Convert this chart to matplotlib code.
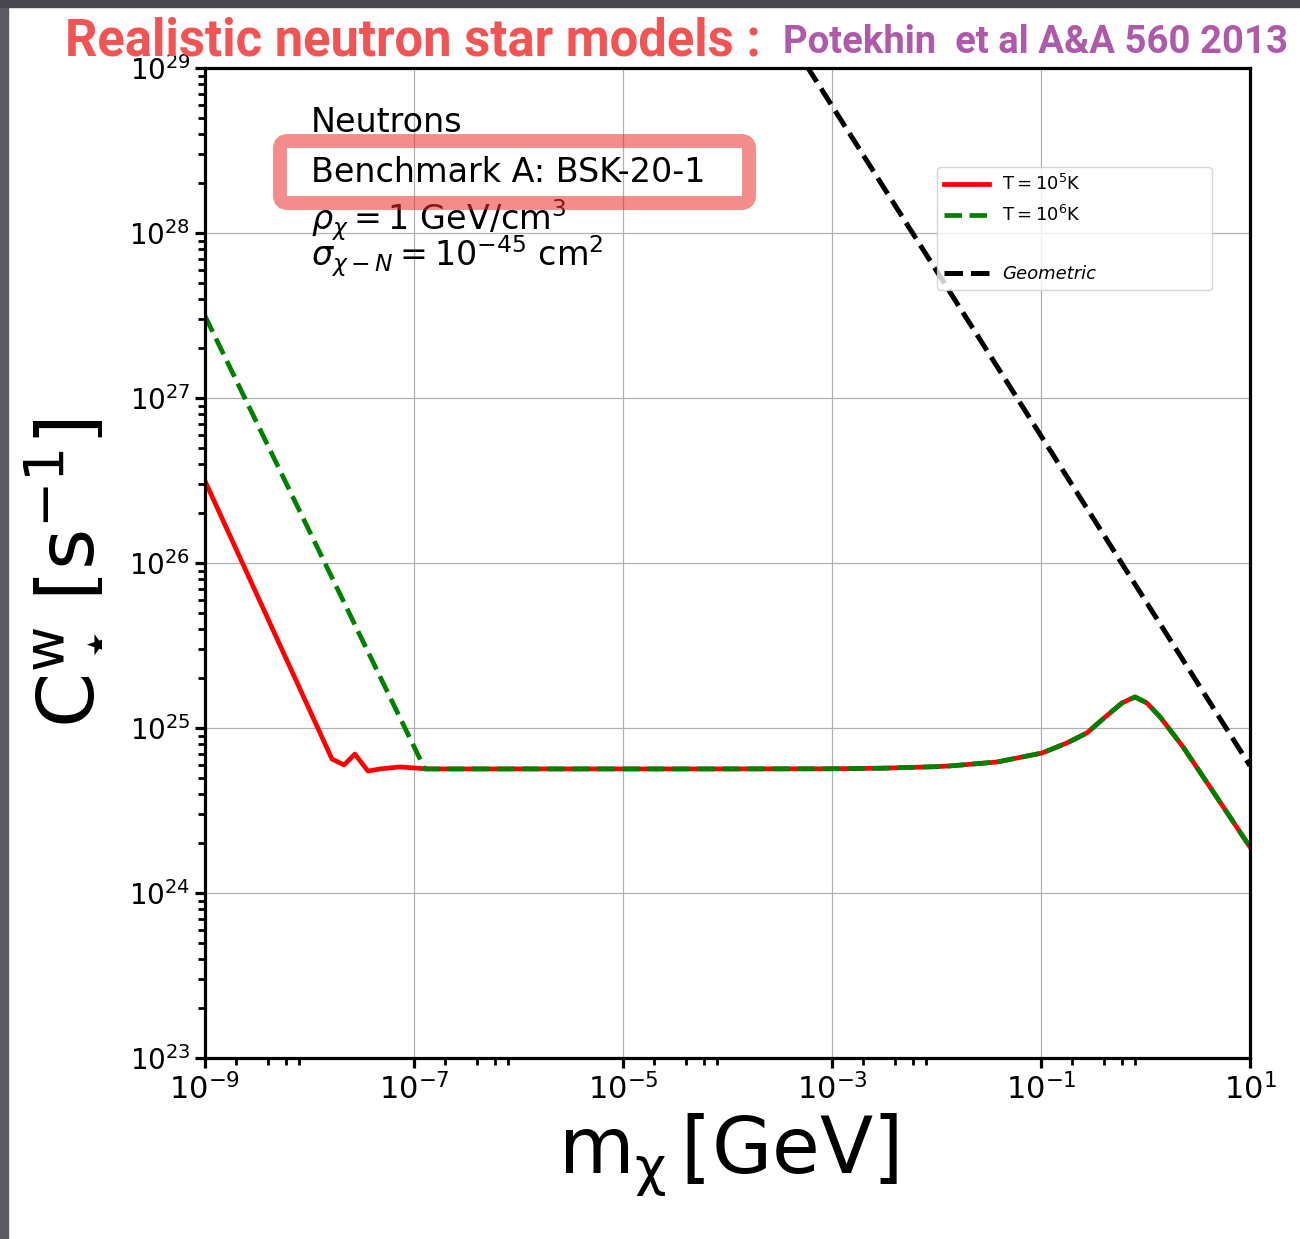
import matplotlib
matplotlib.use('Agg')
import matplotlib.pyplot as plt
import numpy as np
from matplotlib.patches import FancyBboxPatch, Rectangle
from matplotlib.ticker import FixedLocator, LogLocator, NullFormatter

# values (GeV, s^-1)
m_red = [1e-9, 1.64e-8, 2.14e-8, 2.72e-8, 3.63e-8, 4.73e-8, 7.35e-8, 1.33e-7]
c_red = [3.14e26, 6.49e24, 5.97e24, 6.95e24, 5.48e24, 5.65e24, 5.81e24, 5.65e24]
m_green = [1e-9, 1.27e-7]
c_green = [3.14e27, 5.65e24]
m_tail = [1e-6, 1e-5, 1e-4, 1e-3, 3.16e-3, 1e-2, 1.35e-2, 3.79e-2, 0.102, 0.177,
          0.275, 0.392, 0.596, 0.794, 1.03, 1.38, 2.29, 4.14, 10.0]
c_tail = [5.65e24, 5.65e24, 5.65e24, 5.66e24, 5.71e24, 5.83e24, 5.89e24, 6.22e24,
          7.05e24, 8.11e24, 9.33e24, 1.135e25, 1.419e25, 1.542e25, 1.419e25,
          1.167e25, 7.67e24, 4.39e24, 1.90e24]
m_geo = [1e-4, 1e-3, 1e-2, 1e-1, 1.0, 10.0]
c_geo = [5.9e29, 5.9e28, 5.9e27, 5.9e26, 5.9e25, 5.9e24]

W, H = 1300, 1239
fig = plt.figure(figsize=(W / 100, H / 100), dpi=100)
fig.patches.append(Rectangle((0, 0), 8 / W, 1, transform=fig.transFigure,
                             color='#5c5a63', zorder=0))
fig.patches.append(Rectangle((0, 1 - 7 / H), 1, 7 / H, transform=fig.transFigure,
                             color='#48474e', zorder=0))

ax = fig.add_axes([205 / W, 1 - 1058 / H, 1045 / W, 990 / H])
ax.set_xscale('log')
ax.set_yscale('log')

ax.plot(m_red + m_tail, c_red + c_tail, color='red', lw=3.4, label=r'$\mathrm{T = 10^5K}$')
ax.plot(m_green + m_tail, c_green + c_tail, color='green', lw=3.4, ls='--',
        label=r'$\mathrm{T = 10^6K}$')
ax.plot([], [], ls='none', label=' ')
ax.plot(m_geo, c_geo, color='black', lw=3.6, ls='--', label='Geometric')

ax.set_xlim(1e-9, 10)
ax.set_ylim(1e23, 1e29)

ax.xaxis.set_major_locator(FixedLocator([1e-9, 1e-7, 1e-5, 1e-3, 1e-1, 1e1]))
ax.xaxis.set_minor_locator(FixedLocator([s * 10.0**k for k in range(-9, 1, 2) for s in (2, 4, 6, 8)]))
ax.xaxis.set_minor_formatter(NullFormatter())
ax.yaxis.set_major_locator(LogLocator(base=10, numticks=10))
ax.yaxis.set_minor_locator(LogLocator(base=10, subs=np.arange(2, 10), numticks=20))
ax.yaxis.set_minor_formatter(NullFormatter())

ax.grid(True, which='major', color='#b0b0b0', lw=0.9)
for s in ax.spines.values():
    s.set_linewidth(2.3)
ax.tick_params(which='major', length=7, width=2.3)
ax.tick_params(which='minor', length=5, width=2.0)
ax.tick_params(axis='x', labelsize=22)
ax.tick_params(axis='y', labelsize=20)

ax.set_xlabel(r'$\mathrm{m_\chi\,[GeV]}$', fontsize=56)
ax.xaxis.set_label_coords(0.5, -0.054)
ax.set_ylabel(r'$\mathrm{C^w_\star\,[s^{-1}]}$', fontsize=57)
ax.yaxis.set_label_coords(-0.098, 0.49)

leg = ax.legend(loc='upper left', bbox_to_anchor=(0.7005, 0.778, 0.263, 0.122),
                mode='expand', fontsize=13, labelspacing=0.6, handlelength=2.5,
                handletextpad=0.7, borderpad=0.4, borderaxespad=0)
leg.get_texts()[3].set_fontstyle('italic')

# annotation block
def px(x, y):
    return x / W, 1 - y / H

fig.text(*px(311, 122), 'Neutrons', fontsize=24, va='center')
fig.text(*px(311, 172), 'Benchmark A: BSK-20-1', fontsize=24, va='center')
fig.text(*px(311, 220), r'$\rho_\chi = 1$ GeV/cm$^3$', fontsize=24, va='center')
fig.text(*px(311, 256), r'$\sigma_{\chi-N} = 10^{-45}$ cm$^2$', fontsize=24, va='center')
box = FancyBboxPatch(px(280, 203), 469 / W, 62 / H, boxstyle='round,pad=0,rounding_size=0.006',
                     transform=fig.transFigure, facecolor='none',
                     edgecolor=(0.93, 0.18, 0.18, 0.55), lw=10, zorder=5)
fig.patches.append(box)

fig.text(*px(65, 55), 'Realistic neutron star models :', fontsize=36.5, fontweight='bold',
         family='Roboto', color='#f05454', va='baseline')
fig.text(*px(783, 53), 'Potekhin  et al A&A 560 2013', fontsize=27.5, fontweight='bold',
         family='Roboto', color='#ad5aab', va='baseline')

fig.savefig('out.png', dpi=100)
